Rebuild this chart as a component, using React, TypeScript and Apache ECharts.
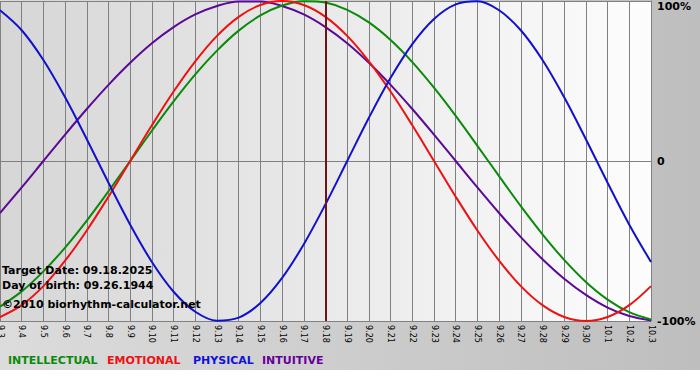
import React, { useEffect, useRef } from "react";
import * as echarts from "echarts";

const dates = [
  "9.3", "9.4", "9.5", "9.6", "9.7", "9.8", "9.9", "9.10", "9.11", "9.12",
  "9.13", "9.14", "9.15", "9.16", "9.17", "9.18", "9.19", "9.20", "9.21", "9.22",
  "9.23", "9.24", "9.25", "9.26", "9.27", "9.28", "9.29", "9.30", "10.1", "10.2", "10.3",
];

const intellectual = [
  -91.0, -81.5, -69.0, -54.1, -37.2, -18.9, 0, 18.9, 37.2, 54.1, 69.0, 81.5, 91.0, 97.2, 99.9,
  99.0, 94.5, 86.6, 75.6, 61.8, 45.8, 28.2, 9.5, -9.5, -28.2, -45.8, -61.8, -75.6, -86.6, -94.5, -99.0,
];
const emotional = [
  -97.5, -90.1, -78.2, -62.3, -43.4, -22.3, 0, 22.3, 43.4, 62.3, 78.2, 90.1, 97.5, 100, 97.5,
  90.1, 78.2, 62.3, 43.4, 22.3, 0, -22.3, -43.4, -62.3, -78.2, -90.1, -97.5, -100, -97.5, -90.1, -78.2,
];
const physical = [
  94.2, 81.7, 63.1, 39.8, 13.6, -13.6, -39.8, -63.1, -81.7, -94.2, -99.8, -97.9, -88.8, -73.1, -52.0,
  -27.0, 0, 27.0, 52.0, 73.1, 88.8, 97.9, 99.8, 94.2, 81.7, 63.1, 39.8, 13.6, -13.6, -39.8, -63.1,
];
const intuitive = [
  -32.5, -16.5, 0, 16.5, 32.5, 47.6, 61.4, 73.6, 83.7, 91.6, 96.9, 99.7, 99.7, 96.9, 91.6,
  83.7, 73.6, 61.4, 47.6, 32.5, 16.5, 0, -16.5, -32.5, -47.6, -61.4, -73.6, -83.7, -91.6, -96.9, -99.7,
];

const targetDate = "9.18";
const infoLines = ["Target Date: 09.18.2025", "Day of birth: 09.26.1944", "©2010 biorhythm-calculator.net"];
const legendNames = ["INTELLECTUAL", "EMOTIONAL", "PHYSICAL", "INTUITIVE"];
const legendColors = ["#0a8a0a", "#ee1111", "#1111dd", "#660099"];
const legendX = [8, 107, 193, 262];
const infoY = [265, 280, 299];

export default function App() {
  const ref = useRef<HTMLDivElement>(null);

  useEffect(() => {
    if (!ref.current) return;
    const chart = echarts.init(ref.current, null, { renderer: "svg" });
    const font = "DejaVu Sans";
    const lineSeries = (name: string, data: number[], color: string, extra: any = {}) => ({
      name,
      type: "line",
      data,
      smooth: 0.35,
      symbol: "none",
      lineStyle: { color, width: 2 },
      itemStyle: { color },
      ...extra,
    });
    chart.setOption({
      animation: false,
      backgroundColor: "transparent",
      grid: {
        left: 0,
        right: 49,
        top: 1,
        bottom: 59,
        outerBoundsMode: "none",
        containLabel: false,
        show: true,
        borderWidth: 0,
        backgroundColor: new echarts.graphic.LinearGradient(0, 0, 1, 0, [
          { offset: 0, color: "#d6d6d6" },
          { offset: 1, color: "#fdfdfd" },
        ]),
      },
      xAxis: {
        type: "category",
        data: dates,
        boundaryGap: false,
        axisLine: { show: true, lineStyle: { color: "#808080", width: 1 } },
        axisTick: { show: true, length: 4, interval: 0, lineStyle: { color: "#808080" } },
        splitLine: { show: true, interval: 0, lineStyle: { color: "#808080", width: 1 } },
        axisLabel: {
          interval: 0,
          rotate: -90,
          margin: 4,
          fontSize: 8,
          fontFamily: font,
          color: "#000",
        },
      },
      yAxis: {
        type: "value",
        position: "right",
        min: -100,
        max: 100,
        interval: 100,
        axisLine: { show: true, lineStyle: { color: "#808080" } },
        axisTick: { show: false },
        splitLine: { show: true, lineStyle: { color: "#808080", width: 1 } },
        axisLabel: {
          margin: 6,
          fontSize: 11,
          fontWeight: "bold",
          fontFamily: font,
          color: "#000",
          verticalAlignMaxLabel: "top",
          formatter: (v: number) => (v === 0 ? "0" : v + "%"),
        },
      },
      graphic: [
        {
          type: "rect",
          z: -10,
          silent: true,
          shape: { x: 0, y: 0, width: 700, height: 370 },
          style: {
            fill: new echarts.graphic.LinearGradient(0, 0, 1, 0, [
              { offset: 0, color: "#dcdcdc" },
              { offset: 1, color: "#bebebe" },
            ]),
          },
        },
        ...infoLines.map((t, i) => ({
          type: "text",
          z: 100,
          left: 2,
          top: infoY[i],
          style: { text: t, font: `bold 11px ${font}`, fill: "#000" },
        })),
        ...legendNames.map((t, i) => ({
          type: "text",
          z: 100,
          left: legendX[i],
          top: 355,
          style: { text: t, font: `bold 11px ${font}`, fill: legendColors[i] },
        })),
      ],
      series: [
        lineSeries("INTUITIVE", intuitive, "#5a0a96"),
        lineSeries("INTELLECTUAL", intellectual, "#0a8a0a"),
        lineSeries("EMOTIONAL", emotional, "#ee1111"),
        lineSeries("PHYSICAL", physical, "#1111cc", {
          markLine: {
            silent: true,
            symbol: "none",
            label: { show: false },
            lineStyle: { color: "#6e1616", width: 2, type: "solid" },
            data: [{ xAxis: targetDate }],
          },
        }),
      ],
    });
    return () => chart.dispose();
  }, []);

  return (
    <div
      ref={ref}
      style={{ position: "fixed", left: 0, top: 0, width: 700, height: 380, background: "#ffffff" }}
    />
  );
}
